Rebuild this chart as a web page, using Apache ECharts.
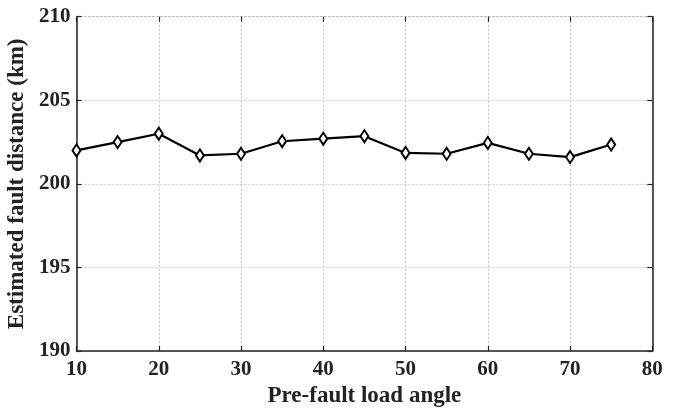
<!DOCTYPE html>
<html><head><meta charset="utf-8">
<script src="https://cdn.jsdelivr.net/npm/echarts@6/dist/echarts.min.js"></script>
<style>html,body{margin:0;padding:0;background:#fff}#c{width:677px;height:410px}</style>
</head><body><div id="c"></div>
<script>
const loadAngles = [10,15,20,25,30,35,40,45,50,55,60,65,70,75];
const estDistance = [202.0,202.5,203.0,201.7,201.8,202.55,202.7,202.85,201.85,201.8,202.45,201.8,201.6,202.35];
const xTitle = 'Pre-fault load angle';
const yTitle = 'Estimated fault distance (km)';

const font = '"Liberation Serif","Times New Roman",serif';
const chart = echarts.init(document.getElementById('c'));
const gridLine = {show:true,lineStyle:{color:'#c8c8c8',type:[2,2],width:1}};
chart.setOption({
  animation:false,
  grid:{left:76.5,right:24.7,top:16.7,bottom:59,containLabel:false,outerBoundsMode:'none'},
  xAxis:[{
    type:'value',min:10,max:80,interval:10,position:'bottom',
    axisLine:{show:true,onZero:false,lineStyle:{color:'#222',width:1.5}},
    axisTick:{show:true,inside:true,length:5,lineStyle:{color:'#222',width:1.2}},
    axisLabel:{color:'#222',fontFamily:font,fontWeight:'bold',fontSize:21,margin:8},
    splitLine:gridLine,
    name:xTitle,nameLocation:'middle',nameGap:31,
    nameTextStyle:{color:'#222',fontFamily:font,fontWeight:'bold',fontSize:23}
  },{
    type:'value',min:10,max:80,interval:10,position:'top',
    axisLine:{show:true,onZero:false,lineStyle:{color:'#bbb',width:1,type:[2,2]}},
    axisTick:{show:true,inside:true,length:5,lineStyle:{color:'#222',width:1.2}},
    axisLabel:{show:false},splitLine:{show:false}
  }],
  yAxis:[{
    type:'value',min:190,max:210,interval:5,position:'left',
    axisLine:{show:true,onZero:false,lineStyle:{color:'#222',width:1.5}},
    axisTick:{show:true,inside:true,length:5,lineStyle:{color:'#222',width:1.2}},
    axisLabel:{color:'#222',fontFamily:font,fontWeight:'bold',fontSize:21,margin:6},
    splitLine:gridLine,
    name:yTitle,nameLocation:'middle',nameGap:44,
    nameTextStyle:{color:'#222',fontFamily:font,fontWeight:'bold',fontSize:23}
  },{
    type:'value',min:190,max:210,interval:5,position:'right',
    axisLine:{show:true,onZero:false,lineStyle:{color:'#222',width:1.5}},
    axisTick:{show:true,inside:true,length:5,lineStyle:{color:'#222',width:1.2}},
    axisLabel:{show:false},splitLine:{show:false}
  }],
  series:[{
    type:'line',xAxisIndex:0,yAxisIndex:0,
    data:loadAngles.map((x,i)=>[x,estDistance[i]]),
    lineStyle:{color:'#000',width:2.2},
    symbol:'diamond',symbolSize:[8,12],
    itemStyle:{color:'#fff',borderColor:'#000',borderWidth:2}
  }]
});
</script></body></html>
